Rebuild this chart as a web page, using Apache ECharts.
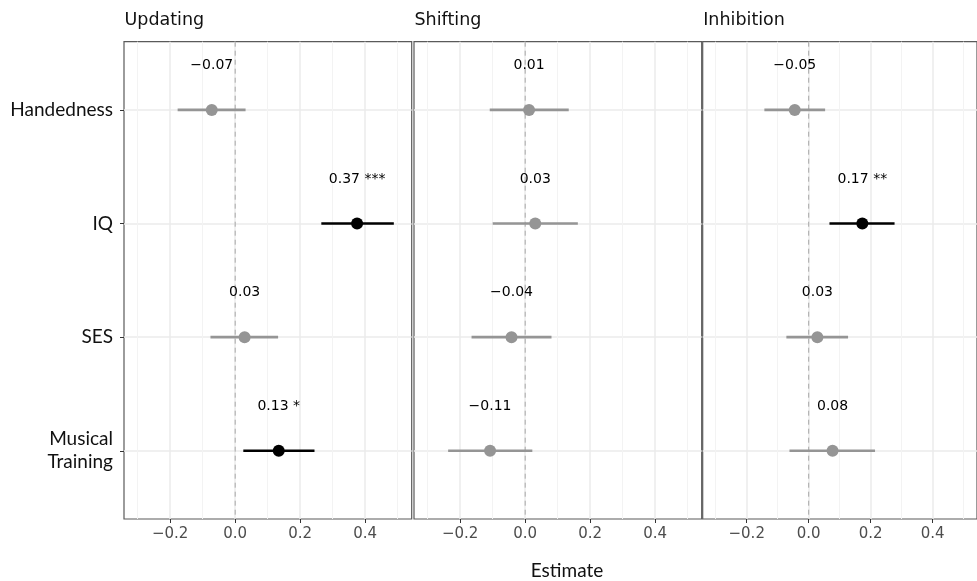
<!DOCTYPE html>
<html>
<head>
<meta charset="utf-8">
<script src="https://cdn.jsdelivr.net/npm/echarts@6/dist/echarts.min.js"></script>
<style>
  html, body { margin: 0; padding: 0; background: #fff; }
  #chart { width: 977px; height: 581px; }
</style>
</head>
<body>
<div id="chart"></div>
<script>
const rows = ['Handedness', 'IQ', 'SES', 'Musical\nTraining'];
const panels = ['Updating', 'Shifting', 'Inhibition'];
const xTicks = [-0.2, 0, 0.2, 0.4];
const xTickLabels = ['−0.2', '0.0', '0.2', '0.4'];
const xMinor = [-0.3, -0.1, 0.1, 0.3, 0.5];

// estimate, interval ends, label, significant? (one entry per row)
const updatingEst = [-0.072, 0.375, 0.029, 0.134];
const updatingLo = [-0.177, 0.265, -0.076, 0.025];
const updatingHi = [0.032, 0.488, 0.132, 0.244];
const updatingText = ['−0.07', '0.37 ***', '0.03', '0.13 *'];
const updatingSig = [false, true, false, true];

const shiftingEst = [0.012, 0.031, -0.042, -0.108];
const shiftingLo = [-0.109, -0.100, -0.165, -0.237];
const shiftingHi = [0.134, 0.162, 0.081, 0.022];
const shiftingText = ['0.01', '0.03', '−0.04', '−0.11'];
const shiftingSig = [false, false, false, false];

const inhibitionEst = [-0.045, 0.173, 0.028, 0.077];
const inhibitionLo = [-0.143, 0.067, -0.072, -0.062];
const inhibitionHi = [0.053, 0.277, 0.127, 0.214];
const inhibitionText = ['−0.05', '0.17 **', '0.03', '0.08'];
const inhibitionSig = [false, true, false, false];

const panelData = [
  { est: updatingEst, lo: updatingLo, hi: updatingHi, text: updatingText, sig: updatingSig },
  { est: shiftingEst, lo: shiftingLo, hi: shiftingHi, text: shiftingText, sig: shiftingSig },
  { est: inhibitionEst, lo: inhibitionLo, hi: inhibitionHi, text: inhibitionText, sig: inhibitionSig }
];

const X_MIN = -0.342, X_MAX = 0.543;
const Y_MIN = -0.6, Y_MAX = 3.6;
const gridLefts = [124, 414, 702.7];
const GRID_TOP = 41.7, GRID_W = 287.7, GRID_H = 477.3;
const MAIN_FONT = 'DejaVu Sans';
const SIDE_FONT = 'Lato';

const chart = echarts.init(document.getElementById('chart'));

const grid = [], xAxis = [], yAxis = [], series = [], graphic = [];

panels.forEach((name, i) => {
  grid.push({
    left: gridLefts[i], top: GRID_TOP, width: GRID_W, height: GRID_H,
    show: true, borderColor: '#5a5a5a', borderWidth: 1.2, backgroundColor: '#fff'
  });
  // major x axis
  xAxis.push({
    type: 'value', gridIndex: i, min: X_MIN, max: X_MAX, position: 'bottom',
    axisLine: { show: false, onZero: false },
    axisTick: { show: true, customValues: xTicks, length: 4, lineStyle: { color: '#333', width: 1 } },
    axisLabel: {
      customValues: xTicks, margin: 8,
      formatter: v => xTickLabels[xTicks.findIndex(t => Math.abs(t - v) < 1e-9)],
      color: '#4d4d4d', fontFamily: MAIN_FONT, fontSize: 15
    },
    splitLine: { show: true, lineStyle: { color: '#ebebeb', width: 1.5 } }
  });
  // minor grid lines
  xAxis.push({
    type: 'value', gridIndex: i, min: X_MIN, max: X_MAX, position: 'top',
    axisLine: { show: false, onZero: false },
    axisTick: { show: false, customValues: xMinor },
    axisLabel: { show: false, customValues: xMinor },
    splitLine: { show: true, lineStyle: { color: '#f3f3f3', width: 1 } }
  });
  yAxis.push({
    type: 'value', gridIndex: i, min: Y_MIN, max: Y_MAX, inverse: true, position: 'left',
    axisLine: { show: false, onZero: false },
    axisTick: { show: i === 0, customValues: [0, 1, 2, 3], length: 4, lineStyle: { color: '#333', width: 1 } },
    axisLabel: {
      show: i === 0, customValues: [0, 1, 2, 3], margin: 11,
      formatter: v => rows[v],
      color: '#111', fontFamily: SIDE_FONT, fontSize: 19, lineHeight: 23
    },
    splitLine: { show: true, lineStyle: { color: '#ebebeb', width: 1.5 } }
  });

  // dashed reference line at zero
  series.push({
    type: 'line', xAxisIndex: i * 2, yAxisIndex: i,
    data: [[0, Y_MIN], [0, Y_MAX]], symbol: 'none', silent: true,
    lineStyle: { color: '#a8a8a8', width: 1, type: [5, 4] }, z: 2
  });

  const d = panelData[i];
  series.push({
    type: 'custom', xAxisIndex: i * 2, yAxisIndex: i, z: 3,
    data: d.est.map((e, r) => [e, r, d.lo[r], d.hi[r]]),
    renderItem: (params, api) => {
      const r = api.value(1);
      const p = api.coord([api.value(0), r]);
      const lo = api.coord([api.value(2), r]);
      const hi = api.coord([api.value(3), r]);
      const t = api.coord([api.value(0), r - 0.39]);
      const color = d.sig[params.dataIndex] ? '#000' : '#959595';
      return {
        type: 'group',
        children: [
          { type: 'line', shape: { x1: lo[0], y1: lo[1], x2: hi[0], y2: hi[1] },
            style: { stroke: color, lineWidth: 2.6 } },
          { type: 'circle', shape: { cx: p[0], cy: p[1], r: 6 }, style: { fill: color } },
          { type: 'text', x: t[0], y: t[1],
            style: { text: d.text[params.dataIndex], fill: '#000',
                     fontSize: 14, fontFamily: MAIN_FONT,
                     align: 'center', verticalAlign: 'middle' } }
        ]
      };
    }
  });

  graphic.push({
    type: 'text', x: gridLefts[i] + 0.5, y: 20.5,
    style: { text: name, fill: '#111', fontSize: 17.5, fontFamily: MAIN_FONT,
             align: 'left', verticalAlign: 'middle' }
  });
});

graphic.push({
  type: 'text', x: 567, y: 571,
  style: { text: 'Estimate', fill: '#111', fontSize: 19, fontFamily: SIDE_FONT,
           align: 'center', verticalAlign: 'middle' }
});

chart.setOption({
  animation: false,
  grid, xAxis, yAxis, series, graphic
});
</script>
</body>
</html>
